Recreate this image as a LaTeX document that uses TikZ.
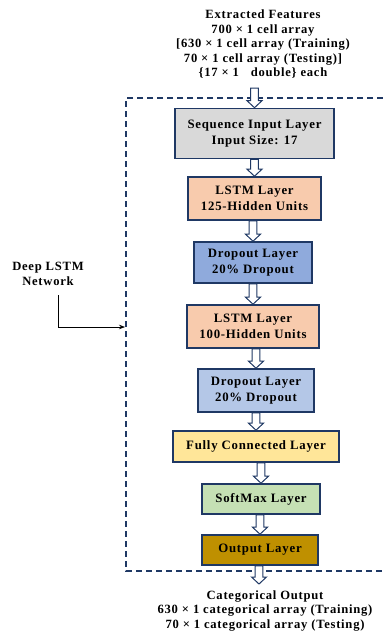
\documentclass[tikz,border=0pt]{standalone}
\usepackage{fontspec}
\setmainfont{Liberation Serif}[LetterSpace=6]
\usepackage{xcolor}
\usetikzlibrary{arrows.meta, positioning, calc, backgrounds}

\definecolor{navy}{HTML}{1F3864}
\definecolor{inputgray}{HTML}{D9D9D9}
\definecolor{lstmpeach}{HTML}{F8CBAD}
\definecolor{dropdark}{HTML}{8FAADC}
\definecolor{droplight}{HTML}{B4C7E7}
\definecolor{fcyellow}{HTML}{FFE699}
\definecolor{softgreen}{HTML}{C5E0B4}
\definecolor{outgold}{HTML}{BF9000}

% hollow block arrow pointing down, from one node to the next
\newcommand{\flowarrow}[2]{%
    \path[flow] let \p1=(#1), \p2=(#2) in
        (\x2-3.8pt,\y1) -- (\x2-3.8pt,\y2+7pt) -- (\x2-7.5pt,\y2+7pt) -- (\x2,\y2)
        -- (\x2+7.5pt,\y2+7pt) -- (\x2+3.8pt,\y2+7pt) -- (\x2+3.8pt,\y1) -- cycle;
}

\begin{document}
\begin{tikzpicture}[x=1pt, y=-1pt,
    % Styles
    layer/.style={
        rectangle,
        draw=navy,
        line width=1.6pt,
        align=center,
        inner sep=2pt,
        font=\fontsize{12.8}{15.8}\selectfont\bfseries
    },
    inputlayer/.style={layer, fill=inputgray},
    lstmlayer/.style={layer, fill=lstmpeach},
    droplayer/.style={layer, fill=dropdark},
    droplayerb/.style={layer, fill=droplight},
    fclayer/.style={layer, fill=fcyellow},
    softlayer/.style={layer, fill=softgreen},
    outlayer/.style={layer, fill=outgold},
    caption/.style={
        align=center,
        font=\fontsize{12.6}{14.5}\selectfont\bfseries
    },
    flow/.style={draw=navy, line width=1pt, fill=white},
    frame/.style={draw=navy, line width=1.3pt, dash pattern=on 6pt off 4pt}
]
\useasboundingbox (0,0) rectangle (383,635);

% Input description
\node[caption] (features) at (263,44) {
    Extracted Features\\
    700 × 1 cell array\\
    {[}630 × 1 cell array (Training)\\
    70 × 1 cell array (Testing)]\\
    \{17 × 1\ \ \ double\} each
};

% Network layers
\node[inputlayer, minimum width=159pt, minimum height=50pt] (seq) at (254.5,133.5) {
    Sequence Input Layer\\
    Input Size: 17
};
\node[lstmlayer, minimum width=133pt, minimum height=43pt] (lstmA) at (254.5,198.5) {
    LSTM Layer\\
    125-Hidden Units
};
\node[droplayer, minimum width=118pt, minimum height=41pt] (dropA) at (253,262.5) {
    Dropout Layer\\
    20\% Dropout
};
\node[lstmlayer, minimum width=132pt, minimum height=43pt] (lstmB) at (253,326.5) {
    LSTM Layer\\
    100-Hidden Units
};
\node[droplayerb, minimum width=116pt, minimum height=43pt] (dropB) at (256,390.5) {
    Dropout Layer\\
    20\% Dropout
};
\node[fclayer, minimum width=166pt, minimum height=31pt] (fc) at (256,446.5) {Fully Connected Layer};
\node[softlayer, minimum width=118pt, minimum height=30pt] (soft) at (261,499) {SoftMax Layer};
\node[outlayer, minimum width=116pt, minimum height=30pt] (out) at (260,550) {Output Layer};

% Output description
\node[caption] (result) at (265,611) {
    Categorical Output\\
    630 × 1 categorical array (Training)\\
    70 × 1 categorical array (Testing)
};

% Ends of the first and last arrow
\coordinate (inTop) at (253,88);
\coordinate (outEnd) at (259,584);

% Network frame, open to the right
\begin{scope}[on background layer]
    \draw[frame] (383,98) -- (126,98) -- (126,571) -- (383,571);
    \flowarrow{inTop}{seq.north}
    \flowarrow{seq.south}{lstmA.north}
    \flowarrow{lstmA.south}{dropA.north}
    \flowarrow{dropA.south}{lstmB.north}
    \flowarrow{lstmB.south}{dropB.north}
    \flowarrow{dropB.south}{fc.north}
    \flowarrow{fc.south}{soft.north}
    \flowarrow{soft.south}{out.north}
    \flowarrow{out.south}{outEnd}
\end{scope}

% Network label
\node[caption] (deep) at (48,274) {
    Deep LSTM\\
    Network
};
\coordinate (netIn) at (125,327);
\draw[line width=0.7pt, -{Stealth[length=6pt, width=4.5pt]}] ([xshift=10pt, yshift=-6pt]deep.south) |- (netIn);

\end{tikzpicture}
\end{document}
